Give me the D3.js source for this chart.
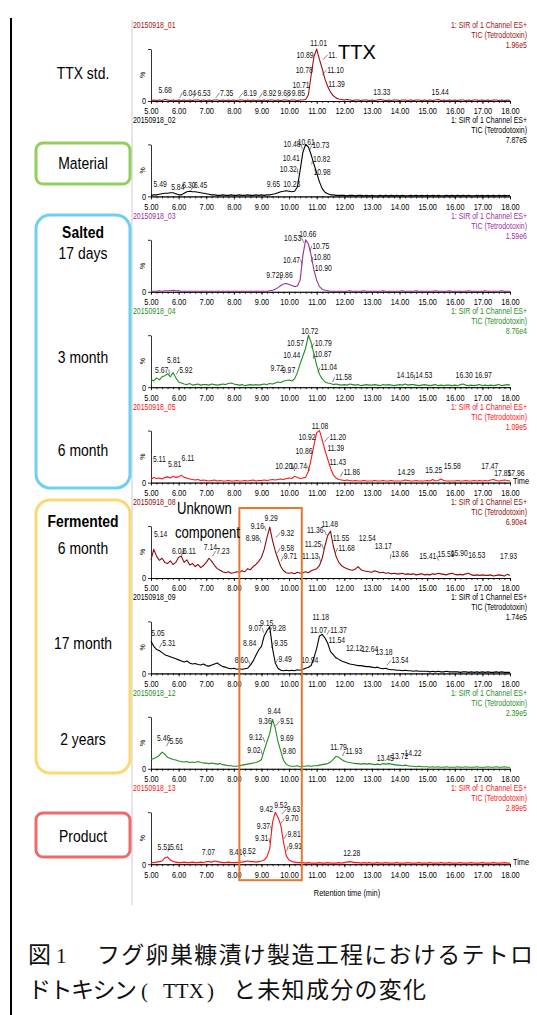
<!DOCTYPE html>
<html>
<head>
<meta charset="utf-8">
<title>TTX chromatograms</title>
<style>
body {
  margin: 0;
  background: #fff;
}
svg {
  display: block;
}
svg text {
  font-family: "Liberation Sans", Arial, sans-serif;
}
.hdr { font-size: 8.5px; }
.pk { font-size: 9px; }
.tick text { font-size: 9px; fill: #000; }
.tick line, .domain { stroke: #000; stroke-width: 0.8; }
.stage { font-size: 17px; fill: #000; }
svg text.cap {
  font-family: "Noto Sans CJK JP", sans-serif;
  font-size: 23px;
  fill: #111;
}
svg text.cap .ser { font-family: "Liberation Serif", serif; font-size: 21px; }
</style>
<script src="https://cdn.jsdelivr.net/npm/d3@7"></script>
</head>
<body>
<script>
// sample runs, top to bottom
const sampleIds = ['20150918_01', '20150918_02', '20150918_03', '20150918_04', '20150918_05',
  '20150918_08', '20150918_09', '20150918_12', '20150918_13'];
const fullScale = ['1.96e5', '7.87e5', '1.59e6', '8.76e4', '1.09e5', '6.90e4', '1.74e5', '2.39e5', '2.89e5'];
const timeTicks = [5, 6, 7, 8, 9, 10, 11, 12, 13, 14, 15, 16, 17, 18];

// TIC in % of full scale, one value every 0.1 min from 5.0 to 18.0
const tStart = 5, tStep = 0.1;
const tic01 = [
  1,2,1,2,1,3,2,1,2,1, 2,1,2,1,2,1,2,2,1,2, 1,2,1,2,2,1,2,1,2,1, 2,1,2,2,1,2,1,2,1,2,
  1,2,1,2,2,1,2,1,2,2, 1,2,2,1,2,2,3,12,50,85, 100,80,62,42,28,17,10,6,4,3,
  2,3,2,1,2,2,1,2,2,1, 2,1,2,3,2,1,2,1,2,2, 1,2,2,1,2,1,2,2,1,2, 1,2,1,2,3,1,2,1,2,1,
  2,1,2,2,1,2,1,2,2,1, 2,1,2,1,2,2,1,2,1,2, 1];
const tic02 = [
  2,3,3,4,5,6,6,7,7,5, 3,3,6,9,10,9,9,8,7,6, 5,4,3,3,2,2,3,2,2,3, 2,2,3,2,2,3,2,2,3,2,
  3,2,3,3,4,5,7,9,10,11, 10,9,10,18,50,85,100,95,80,62, 45,28,15,8,5,3,3,2,2,2,
  2,1,2,2,1,2,2,1,2,1, 2,1,1,2,1,2,1,2,1,2, 1,2,1,1,2,1,2,1,2,1, 2,1,2,1,2,1,1,2,1,2,
  1,2,1,2,1,2,1,1,2,1, 2,1,2,1,2,1,2,1,2,1, 2];
const tic03 = [
  1,1,1,2,1,2,2,2,3,2, 2,1,1,1,1,1,1,1,1,1, 1,1,1,1,1,1,1,1,1,1, 1,1,1,1,1,1,1,1,1,1,
  1,1,1,2,3,5,8,12,15,16, 14,12,10,11,22,70,100,92,70,42, 22,10,5,3,2,1,1,1,1,1,
  1,1,2,1,1,1,1,2,1,1, 1,1,1,1,2,1,1,1,1,1, 1,2,1,1,1,1,2,1,1,1, 1,1,1,2,1,1,1,1,2,1,
  1,1,1,1,1,2,1,1,1,1, 1,2,1,1,1,1,1,2,1,1, 1];
const tic04 = [
  15,12,18,14,20,22,26,20,28,18, 10,8,6,5,7,4,5,6,4,5, 5,4,6,5,4,5,6,5,7,8, 6,5,4,5,3,4,5,4,5,4,
  5,6,5,7,6,8,10,9,12,13, 14,12,16,28,45,60,75,100,86,64, 42,25,16,10,8,7,5,6,5,4,
  5,4,6,5,4,5,3,4,5,4, 4,5,4,3,5,4,5,4,3,4, 5,4,6,4,5,5,4,3,4,5, 4,3,4,5,3,4,3,4,4,3,
  4,3,5,6,4,3,4,3,4,5, 3,4,3,4,3,4,5,3,4,5, 4];
const tic05 = [
  6,10,8,9,7,10,11,9,12,10, 11,14,10,9,7,6,5,6,4,5, 4,3,4,5,3,4,3,3,4,3, 3,4,3,3,4,3,4,5,3,4,
  4,5,4,5,6,5,6,7,6,8, 9,8,12,10,8,9,10,22,45,72, 96,100,82,62,45,28,15,9,6,5,
  4,5,4,3,4,3,3,4,3,3, 3,4,3,3,4,3,3,4,3,3, 3,3,5,4,3,3,4,3,3,3, 4,3,6,3,4,7,4,3,3,3,
  3,4,3,3,4,3,3,4,3,4, 3,4,3,5,6,4,3,4,5,4, 3];
const tic08 = [
  35,55,42,34,38,30,28,33,26,30, 40,42,30,35,25,28,22,26,20,24, 30,38,32,24,18,15,12,10,12,9,
  10,12,11,14,12,18,16,22,26,32, 40,55,78,98,72,52,36,22,14,10, 9,10,8,11,9,10,12,10,14,16,
  18,24,38,62,82,90,62,42,30,24, 20,18,16,15,17,22,16,14,13,12, 11,14,12,10,11,9,10,8,9,8,
  8,9,7,8,7,8,6,7,8,6, 7,6,8,7,9,8,7,6,8,9, 7,6,7,6,8,9,6,5,6,5, 6,5,5,6,4,5,6,5,4,7, 5];
const tic09 = [
  62,52,46,44,40,36,34,32,30,28, 26,24,22,24,20,18,19,17,16,18, 15,14,16,18,20,16,13,12,10,9,
  10,8,9,8,9,10,16,24,35,45, 52,72,82,90,48,20,10,6,5,6, 5,6,5,7,6,8,10,12,15,30,
  48,72,75,68,58,42,36,30,27,24, 22,20,18,17,16,15,15,14,13,13, 12,11,12,10,9,10,8,7,7,6,
  6,5,6,5,5,4,5,4,4,4, 4,3,4,3,4,3,3,4,3,3, 3,3,2,3,3,2,3,2,3,2, 3,2,3,2,2,3,2,3,2,2, 2];
const tic12 = [
  18,20,22,26,32,28,22,20,18,17, 15,14,13,14,12,13,12,14,12,11, 11,10,11,10,9,10,8,7,6,6,
  5,5,6,7,8,9,10,11,12,14, 18,36,52,68,95,78,52,34,16,9, 6,5,5,6,4,5,5,6,5,6,
  6,7,8,9,10,13,18,24,22,18, 15,13,12,11,10,10,9,10,9,10, 9,8,9,8,10,9,10,9,8,7,
  7,6,7,6,5,5,4,5,4,4, 4,3,4,3,4,3,3,4,3,3, 3,4,3,3,4,3,3,3,4,3, 3,3,4,3,3,4,3,3,4,3, 3];
const tic13 = [
  3,3,4,5,6,12,14,8,5,4, 3,3,4,3,3,4,3,3,4,3, 5,5,4,6,5,4,3,3,4,3, 3,3,4,4,5,6,5,5,4,5,
  6,8,14,30,80,100,90,75,42,16, 8,5,4,3,3,3,2,3,2,2, 2,3,2,2,3,2,2,2,3,2,
  3,4,5,4,3,3,2,3,2,3, 2,2,3,2,2,3,2,2,2,3, 2,2,2,3,2,2,2,3,2,2, 2,3,2,2,2,3,2,2,3,2,
  2,2,3,2,2,2,3,2,2,2, 3,2,2,2,3,2,2,2,3,2, 2];

// peak labels: [label, label centre (min), label height (%)]
const peaks01 = [['5.68',5.51,21],['6.04',6.39,16],['6.53',6.92,16],['7.35',7.74,16],['8.19',8.59,16],
  ['8.92',9.30,16],['9.68',9.82,16],['9.85',10.34,16],['10.71',10.43,31],['10.78',10.55,59],
  ['10.89',10.58,89],['11.01',11.07,112],['11.',11.58,89],['11.10',11.68,60],['11.39',11.72,33],
  ['13.33',13.36,18],['15.44',15.47,18]];
const peaks02 = [['5.49',5.33,24],['5.84',5.97,19],['6.30',6.37,21],['6.45',6.80,21],['9.65',9.43,24],
  ['10.23',10.10,24],['10.32',9.97,53],['10.41',10.08,74],['10.48',10.11,100],['10.61',10.62,104],
  ['10.73',11.15,98],['10.82',11.18,71],['10.98',11.19,47]];
const peaks03 = [['9.72',9.41,32],['9.86',9.89,32],['10.47',10.09,62],['10.53',10.13,104],
  ['10.66',10.68,111],['10.75',11.15,88],['10.80',11.19,67],['10.90',11.24,46]];
const peaks04 = [['5.67',5.39,34],['5.81',5.82,53],['5.92',6.26,34],['9.72',9.57,37],['9.97',9.98,34],
  ['10.44',10.10,62],['10.57',10.23,85],['10.72',10.75,109],['10.79',11.24,85],['10.87',11.23,64],
  ['11.04',11.44,38],['11.58',11.97,20],['14.16',14.21,23],['14.53',14.88,24],['16.30',16.34,23],
  ['16.97',17.03,23]];
const peaks05 = [['5.11',5.30,46],['5.81',5.86,36],['6.11',6.34,48],['10.20',9.81,32],['10.74',10.34,32],
  ['10.86',10.54,60],['10.92',10.65,88],['11.08',11.12,109],['11.20',11.76,88],['11.39',11.69,66],
  ['11.43',11.76,40],['11.86',12.27,21],['14.29',14.24,21],['15.25',15.24,24],['15.58',15.91,32],
  ['17.47',17.27,32],['17.85',17.74,19],['17.96',18.22,19]];
const peaks08 = [['5.14',5.35,84],['6.01',6.00,52],['6.11',6.39,52],['7.14',7.15,59],['7.23',7.60,52],
  ['8.98',8.67,77],['9.16',8.85,100],['9.29',9.35,115],['9.32',9.94,87],['9.58',9.94,58],
  ['9.71',10.05,42],['11.13',10.77,42],['11.25',10.87,65],['11.36',10.95,92],['11.48',11.47,103],
  ['11.55',11.88,77],['11.68',12.08,58],['12.54',12.83,77],['13.17',13.41,61],['13.66',14.02,46],
  ['15.41',15.02,43],['15.59',15.68,46],['15.90',16.16,48],['16.53',16.80,45],['17.93',17.95,42]];
const peaks09 = [['5.05',5.25,78],['5.31',5.65,59],['8.60',8.27,25],['8.84',8.57,59],['9.07',8.77,88],
  ['9.15',9.19,97],['9.28',9.64,88],['9.35',9.70,59],['9.49',9.86,28],['10.94',10.75,25],
  ['11.07',11.07,84],['11.18',11.15,109],['11.37',11.79,84],['11.54',11.73,64],['12.12',12.37,49],
  ['12.64',12.92,47],['13.18',13.44,41],['13.54',14.02,25]];
const peaks12 = [['5.46',5.46,59],['5.56',5.91,53],['9.02',8.73,37],['9.12',8.79,61],['9.36',9.13,92],
  ['9.44',9.46,112],['9.51',9.92,92],['9.69',9.92,59],['9.80',10.00,34],['11.79',11.79,41],
  ['11.93',12.34,34],['13.45',13.48,21],['13.72',14.01,25],['14.22',14.49,30]];
const peaks13 = [['5.51',5.48,34],['5.61',5.93,34],['7.07',7.08,23],['8.41',8.07,24],['8.52',8.55,26],
  ['9.31',9.01,50],['9.37',9.07,74],['9.42',9.18,106],['9.52',9.70,114],['9.63',10.16,106],
  ['9.70',10.10,88],['9.81',10.18,58],['9.91',10.23,35],['12.28',12.27,22]];

// region of the unknown component (min)
const unknownRange = [8.2, 10.46];

const traces = [tic01, tic02, tic03, tic04, tic05, tic08, tic09, tic12, tic13];
const peakSets = [peaks01, peaks02, peaks03, peaks04, peaks05, peaks08, peaks09, peaks12, peaks13];
const colors = ['#a01212', '#000000', '#9a2f9e', '#1f8f1f', '#ff1414', '#8e0c0c', '#000000', '#1f8f1f', '#ff1414'];
const timeLabelOn = [4, 8];

const width = 537, height = 1015;
const NARROW = 0.82; // the original uses a condensed face
const PK_NARROW = 0.76;

const svg = d3.select('body').append('svg')
  .attr('width', width)
  .attr('height', height);

// condensed text helper
function ntext(sel, x, y, s, anchor, k) {
  return sel.append('text')
    .attr('transform', 'translate(' + x + ',' + y + ') scale(' + (k || NARROW) + ',1)')
    .attr('text-anchor', anchor || 'start')
    .text(s);
}

// frame
svg.append('line').attr('x1', 11).attr('x2', 11).attr('y1', 18).attr('y2', height)
  .attr('stroke', '#000').attr('stroke-width', 2);
svg.append('line').attr('x1', 132).attr('x2', 132).attr('y1', 20).attr('y2', 905)
  .attr('stroke', '#ccc').attr('stroke-width', 1);

const x = d3.scaleLinear().domain([5, 18]).range([151, 510]);
const baseOf = i => 101 + i * 95.4;

traces.forEach((vals, i) => {
  const base = baseOf(i);
  const col = colors[i];
  const y = d3.scaleLinear().domain([0, 100]).range([base, base - 52]);
  const g = svg.append('g').attr('class', 'chrom');

  // header
  ntext(g, 133, base - 73, sampleIds[i]).attr('class', 'hdr').attr('fill', col);
  ['1: SIR of 1 Channel ES+', 'TIC (Tetrodotoxin)', fullScale[i]].forEach((s, k) => {
    ntext(g, 527, base - 73 + k * 10, s, 'end').attr('class', 'hdr').attr('fill', col);
  });

  // axes
  g.append('g').attr('transform', 'translate(0,' + base + ')')
    .call(d3.axisBottom(x).tickValues(d3.range(5, 18.001, 0.2)).tickFormat('').tickSize(2).tickSizeOuter(0));
  g.append('g').attr('transform', 'translate(0,' + base + ')')
    .call(d3.axisBottom(x).tickValues(timeTicks).tickFormat(d3.format('.2f')).tickSize(3).tickPadding(4).tickSizeOuter(0))
    .selectAll('.tick text').attr('transform', 'scale(' + NARROW + ',1)');
  g.append('g').attr('transform', 'translate(151,0)')
    .call(d3.axisLeft(y).tickValues([0, 100]).tickFormat(d => d === 0 ? '0' : '').tickSize(3).tickSizeOuter(0))
    .selectAll('.tick text').attr('font-size', 9).attr('transform', 'scale(' + NARROW + ',1)');
  g.append('text').attr('transform', 'translate(145,' + (base - 26) + ') rotate(-90)')
    .attr('text-anchor', 'middle').attr('font-size', 7).text('%');
  if (timeLabelOn.includes(i)) {
    ntext(g, 513, base + 1, 'Time').attr('font-size', 9);
  }

  // trace
  const line = d3.line()
    .x((d, k) => x(tStart + k * tStep))
    .y(d => y(d));
  g.append('path').attr('d', line(vals))
    .attr('fill', 'none').attr('stroke', col).attr('stroke-width', 1.1).attr('stroke-linejoin', 'round');

  // peak labels
  peakSets[i].forEach(([txt, tc, lvl]) => {
    const cx = x(tc), cy = y(lvl), px = x(parseFloat(txt));
    const t = ntext(g, cx, cy + 3, txt, 'middle', PK_NARROW).attr('class', 'pk').attr('fill', '#111');
    const hw = t.node().getComputedTextLength() * PK_NARROW / 2;
    if (px > cx + hw + 1) {
      g.append('line').attr('x1', cx + hw + 0.5).attr('y1', cy).attr('x2', Math.min(px, cx + hw + 5)).attr('y2', cy + 5)
        .attr('stroke', '#333').attr('stroke-width', 0.6);
    } else if (px < cx - hw - 1) {
      g.append('line').attr('x1', cx - hw - 0.5).attr('y1', cy).attr('x2', Math.max(px, cx - hw - 5)).attr('y2', cy + 5)
        .attr('stroke', '#333').attr('stroke-width', 0.6);
    }
  });
});

// overlays on the chromatograms
const over = svg.append('g');
over.append('rect').attr('x', 337).attr('y', 40).attr('width', 40).attr('height', 22).attr('fill', '#fff');
over.append('text').attr('x', 338).attr('y', 59).attr('font-size', 20).text('TTX');
over.append('rect')
  .attr('x', x(unknownRange[0])).attr('y', baseOf(5) - 70)
  .attr('width', x(unknownRange[1]) - x(unknownRange[0]))
  .attr('height', baseOf(8) + 16 - (baseOf(5) - 70))
  .attr('fill', 'none').attr('stroke', '#e8772e').attr('stroke-width', 2);
ntext(over, 177, 514, 'Unknown').attr('font-size', 16);
ntext(over, 175, 538, 'component').attr('font-size', 16);
ntext(over, 347, 896, 'Retention time (min)', 'middle').attr('font-size', 9);

// stage boxes and labels
const boxes = [
  {y0: 143, y1: 184, r: 7, c: '#92cf5a'},
  {y0: 215, y1: 488, r: 14, c: '#6dcff2'},
  {y0: 500, y1: 773, r: 14, c: '#fbd872'},
  {y0: 813, y1: 857, r: 7, c: '#ee6a6a'}
];
boxes.forEach(b => {
  svg.append('rect').attr('x', 36).attr('y', b.y0).attr('width', 94).attr('height', b.y1 - b.y0)
    .attr('rx', b.r).attr('fill', 'none').attr('stroke', b.c).attr('stroke-width', 3);
});
const stageText = [
  ['TTX std.', 73, false], ['Material', 163, false],
  ['Salted', 232, true], ['17 days', 253, false], ['3 month', 357, false], ['6 month', 450, false],
  ['Fermented', 521, true], ['6 month', 548, false], ['17 month', 643, false], ['2 years', 739, false],
  ['Product', 836, false]
];
stageText.forEach(([s, yy, bold]) => {
  ntext(svg, 83, yy + 6, s, 'middle').attr('class', 'stage').attr('font-weight', bold ? 'bold' : null);
});

// caption
const cap1 = svg.append('text').attr('class', 'cap').attr('y', 963);
cap1.append('tspan').attr('x', 28).text('図');
cap1.append('tspan').attr('x', 56).attr('class', 'ser').text('1');
cap1.append('tspan').attr('x', 97).attr('letter-spacing', 1.3).text('フグ卵巣糠漬け製造工程におけるテトロ');
const cap2 = svg.append('text').attr('class', 'cap').attr('y', 998);
cap2.append('tspan').attr('x', 28).attr('letter-spacing', -1.5).text('ドトキシン');
cap2.append('tspan').attr('x', 141).attr('class', 'ser').text('(');
cap2.append('tspan').attr('x', 163).attr('class', 'ser').text('TTX');
cap2.append('tspan').attr('x', 207).attr('class', 'ser').text(')');
cap2.append('tspan').attr('x', 233).attr('letter-spacing', 1.3).text('と未知成分の変化');
</script>
</body>
</html>
